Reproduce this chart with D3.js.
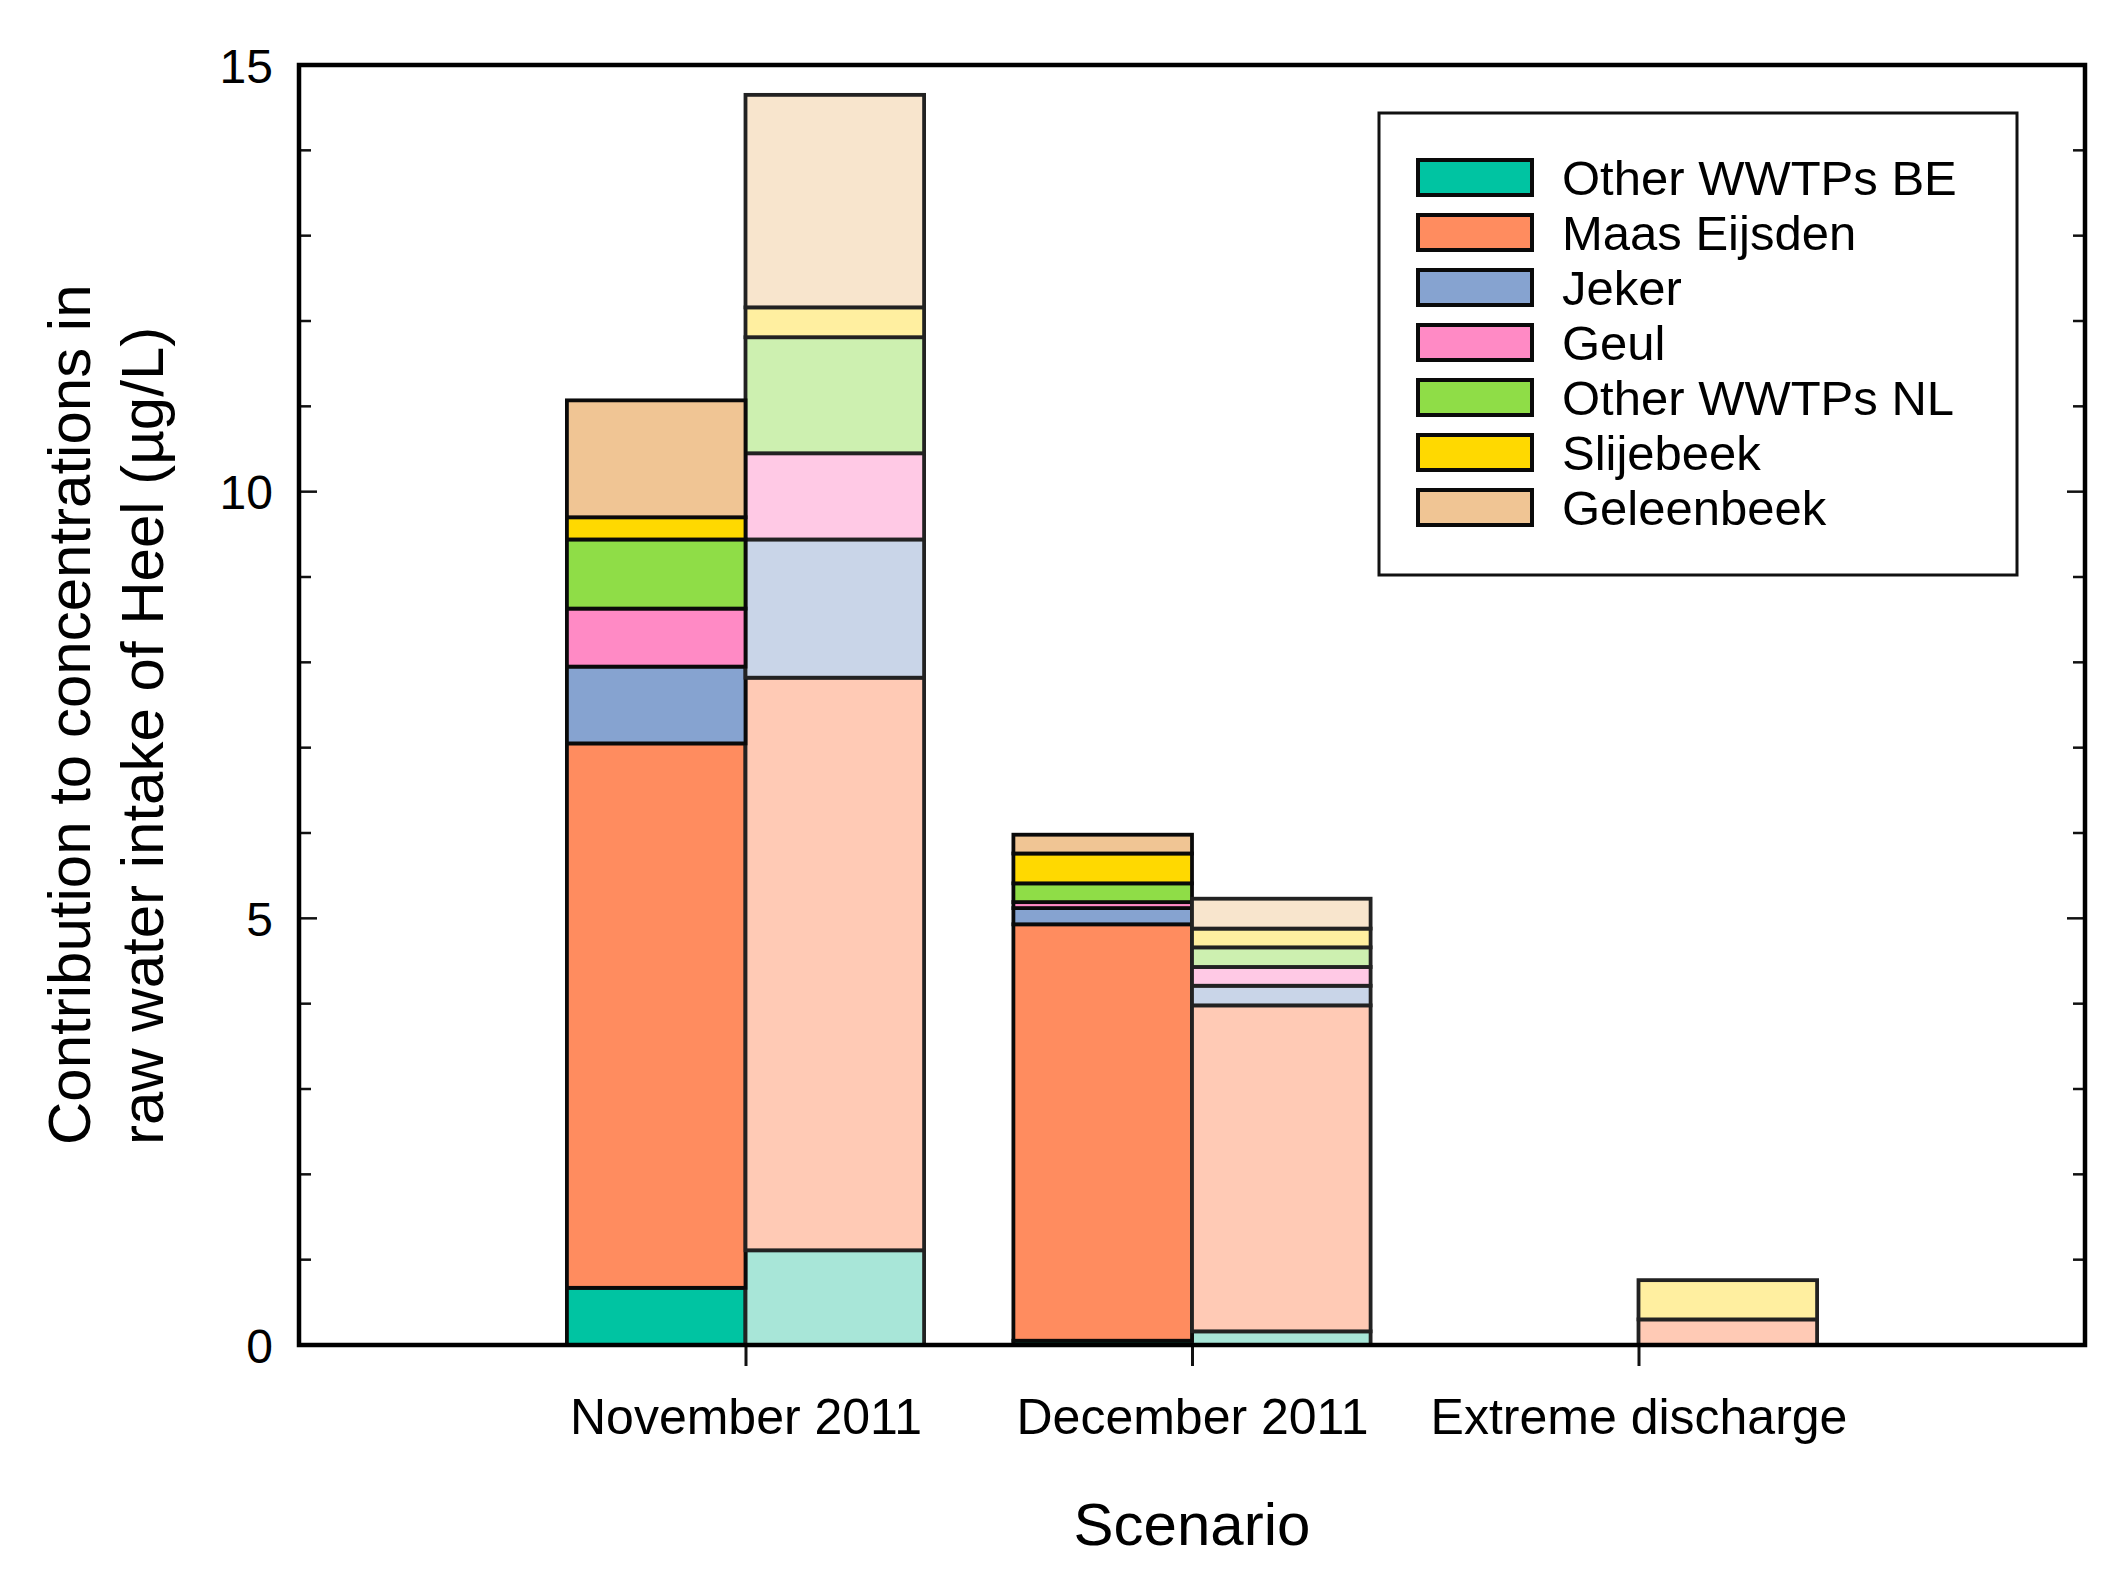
<!DOCTYPE html>
<html>
<head>
<meta charset="utf-8">
<script src="https://cdn.jsdelivr.net/npm/d3@7/dist/d3.min.js"></script>
<style>
html,body{margin:0;padding:0;background:#fff;}
svg text{font-family:"Liberation Sans",Arial,sans-serif;fill:#000;}
</style>
</head>
<body>
<svg id="chart" width="2118" height="1591"></svg>
<script>
// ---- data ----
const categories = ["November 2011", "December 2011", "Extreme discharge"];
const sources = ["Other WWTPs BE", "Maas Eijsden", "Jeker", "Geul", "Other WWTPs NL", "Slijebeek", "Geleenbeek"];
// first (left, saturated) bar of each scenario, per source
const measuredNov = [0.67, 6.38, 0.90, 0.68, 0.81, 0.26, 1.37];
const measuredDec = [0.05, 4.88, 0.19, 0.07, 0.22, 0.35, 0.22];
const measuredExt = [0, 0, 0, 0, 0, 0, 0];
// second (right, pale) bar of each scenario, per source
const modelNov = [1.11, 6.71, 1.62, 1.01, 1.36, 0.35, 2.49];
const modelDec = [0.16, 3.82, 0.23, 0.22, 0.23, 0.22, 0.35];
const modelExt = [0, 0.30, 0, 0, 0, 0.46, 0];
const yTicksMajor = [0, 5, 10, 15];
const yTicksMinor = d3.range(0, 16);

const darkColors = ["#00C4A2", "#FF8C5F", "#86A3D0", "#FF8AC5", "#8FDD47", "#FFD900", "#F0C594"];
const lightColors = ["#A8E6D8", "#FFCAB5", "#C9D5E8", "#FFC9E5", "#CDF0B0", "#FFEFA0", "#F8E5CD"];

// ---- layout ----
const svg = d3.select("#chart");
const L = 299, R = 2085, T = 65, B = 1345;
const x = d3.scaleLinear().domain([0, 4]).range([L, R]);
const y = d3.scaleLinear().domain([0, 15]).range([B, T]);
const barW = 0.4;

const rows = [];
const measured = [measuredNov, measuredDec, measuredExt];
const model = [modelNov, modelDec, modelExt];
categories.forEach((c, i) => {
  const r1 = {cat: c, pos: i + 1, kind: 0};
  const r2 = {cat: c, pos: i + 1, kind: 1};
  sources.forEach((s, j) => { r1[s] = measured[i][j]; r2[s] = model[i][j]; });
  rows.push(r1, r2);
});
const stacked = d3.stack().keys(sources)(rows);

const gBars = svg.append("g");
stacked.forEach((layer, j) => {
  layer.forEach(seg => {
    const d = seg.data;
    if (d[layer.key] <= 0) return;
    const x0 = d.kind === 0 ? x(d.pos - barW) : x(d.pos);
    const x1 = d.kind === 0 ? x(d.pos) : x(d.pos + barW);
    gBars.append("rect")
      .attr("x", x0).attr("width", x1 - x0)
      .attr("y", y(seg[1])).attr("height", y(seg[0]) - y(seg[1]))
      .attr("fill", d.kind === 0 ? darkColors[j] : lightColors[j])
      .attr("stroke", d.kind === 0 ? "#0a0a0a" : "#222")
      .attr("stroke-width", 3.8);
  });
});

// ---- axes ----
const gAx = svg.append("g");
// minor/major ticks inside, left and right
yTicksMinor.forEach(v => {
  if (v === 0 || v === 15) return;
  const len = (v % 5 === 0) ? 18 : 12;
  gAx.append("line").attr("x1", L).attr("x2", L + len).attr("y1", y(v)).attr("y2", y(v))
    .attr("stroke", "#111").attr("stroke-width", 2.5);
  gAx.append("line").attr("x1", R).attr("x2", R - len).attr("y1", y(v)).attr("y2", y(v))
    .attr("stroke", "#111").attr("stroke-width", 2.5);
});
const yAxis = d3.axisLeft(y).tickValues(yTicksMajor).tickSize(0).tickPadding(26);
const gy = svg.append("g").attr("transform", `translate(${L},0)`).call(yAxis);
gy.select(".domain").remove();
gy.selectAll("text").attr("font-size", 48).attr("font-family", "Liberation Sans, Arial, sans-serif").attr("dy", "0.36em");

const xAxis = d3.axisBottom(x).tickValues([1, 2, 3]).tickFormat((d) => categories[d - 1]).tickSize(21).tickPadding(32);
const gx = svg.append("g").attr("transform", `translate(0,${B})`).call(xAxis);
gx.select(".domain").remove();
gx.selectAll(".tick line").attr("stroke", "#111").attr("stroke-width", 3);
gx.selectAll("text").attr("font-size", 50).attr("font-family", "Liberation Sans, Arial, sans-serif").attr("dy", "0.71em");

// frame
svg.append("rect").attr("x", L).attr("y", T).attr("width", R - L).attr("height", B - T)
  .attr("fill", "none").attr("stroke", "#000").attr("stroke-width", 4.5);

// axis titles
svg.append("text").attr("x", (L + R) / 2).attr("y", 1545).attr("text-anchor", "middle")
  .attr("font-size", 60).text("Scenario");
svg.append("text").attr("transform", "translate(90,1145) rotate(-90)").attr("font-size", 60)
  .text("Contribution to concentrations in");
svg.append("text").attr("transform", "translate(163,1145) rotate(-90)").attr("font-size", 60)
  .text("raw water intake of Heel (µg/L)");

// ---- legend ----
const lg = svg.append("g");
lg.append("rect").attr("x", 1379).attr("y", 113).attr("width", 638).attr("height", 462)
  .attr("fill", "#fff").attr("stroke", "#111").attr("stroke-width", 3);
sources.forEach((s, j) => {
  const yy = 160 + j * 55;
  lg.append("rect").attr("x", 1418).attr("y", yy).attr("width", 114).attr("height", 35)
    .attr("fill", darkColors[j]).attr("stroke", "#0a0a0a").attr("stroke-width", 4);
  lg.append("text").attr("x", 1562).attr("y", yy + 35).attr("font-size", 49).text(s);
});
</script>
</body>
</html>
